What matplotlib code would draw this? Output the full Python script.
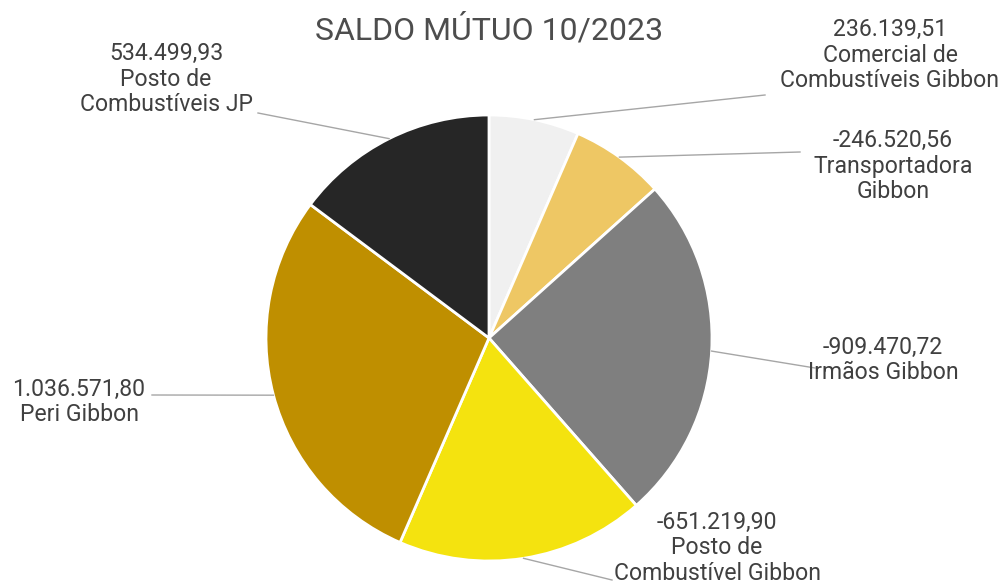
import numpy as np
import matplotlib.pyplot as plt

plt.rcParams['font.family'] = ['Roboto', 'DejaVu Sans']

# dados do gráfico
empresas = ['Comercial de\nCombustíveis Gibbon', 'Transportadora\nGibbon', 'Irmãos Gibbon',
            'Posto de\nCombustível Gibbon', 'Peri Gibbon', 'Posto de\nCombustíveis JP']
saldos = [236139.51, -246520.56, -909470.72, -651219.90, 1036571.80, 534499.93]
cores = ['#f0f0f0', '#eec764', '#7f7f7f', '#f4e30f', '#bf8f00', '#262626']

# posições dos rótulos (pixels da imagem) e ponto final da linha guia
pos_rotulo = [(890, 55), (893, 166), (883, 360), (717, 548), (79, 402), (166, 79)]
fim_linha = [(765, 95), (800, 152), (815, 368), (612, 580), (152, 395), (258, 113)]

W, H = 1007, 587
cx, cy, raio = 489, 338, 223


def fmt_br(v):
    s = f'{v:,.2f}'
    return s.replace(',', 'X').replace('.', ',').replace('X', '.')


fig = plt.figure(figsize=(W / 100, H / 100), dpi=100)
ax = fig.add_axes([0, 0, 1, 1])

wedges, _ = ax.pie(np.abs(saldos), colors=cores, startangle=90, counterclock=False,
                   center=(cx, H - cy), radius=raio,
                   wedgeprops=dict(edgecolor='white', linewidth=2))
ax.set_xlim(0, W)
ax.set_ylim(0, H)
ax.set_aspect('equal')
ax.axis('off')

for w, nome, v, (tx, ty), (lx, ly) in zip(wedges, empresas, saldos, pos_rotulo, fim_linha):
    ang = np.deg2rad((w.theta1 + w.theta2) / 2)
    x0 = cx + raio * np.cos(ang)
    y0 = (H - cy) + raio * np.sin(ang)
    ax.plot([x0, lx], [y0, H - ly], color='#a6a6a6', linewidth=1, zorder=1)
    ax.text(tx, H - ty, f'{fmt_br(v)}\n{nome}', ha='center', va='center',
            fontsize=16.6, color='#404040', linespacing=1.15)

ax.text(489, H - 30, 'SALDO MÚTUO 10/2023', ha='center', va='center',
        fontsize=23, color='#4d4d4d')

fig.savefig('out.png', dpi=100, facecolor='white')
plt.close(fig)
